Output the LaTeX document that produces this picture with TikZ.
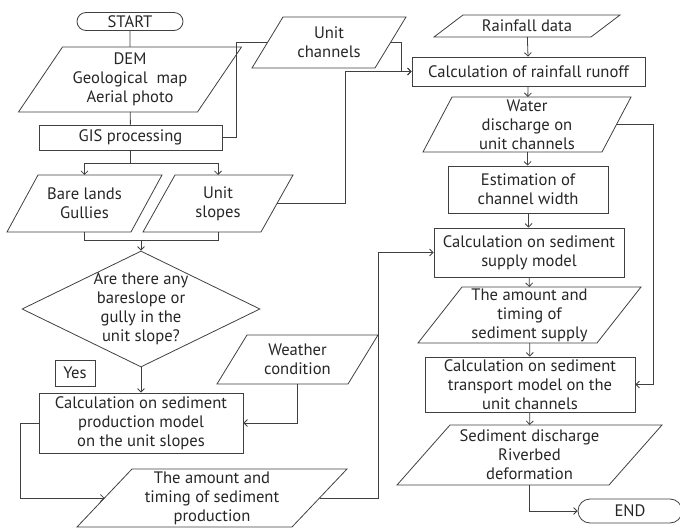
\documentclass[tikz,border=0pt]{standalone}
\usepackage{fontspec}
\setmainfont{PT Sans}
\usepackage{tikz}
\usetikzlibrary{positioning, arrows.meta, shapes.geometric, shapes.misc, calc}

\begin{document}
\begin{tikzpicture}[
    x=1pt, y=-1pt,
    font=\fontsize{16.6}{19}\selectfont,
    line/.style={draw=black!75, line width=0.8pt},
    >={Straight Barb[length=3.5pt, width=7pt]},
    flow/.style={line, ->},
    terminal/.style={line, rounded rectangle, minimum width=#1, inner sep=0pt, text=black!85},
    process/.style={line, rectangle, minimum width=#1, inner sep=0pt, align=center, text=black!85},
    datanode/.style={rectangle, minimum width=#1, inner sep=0pt, outer sep=0pt, align=center, text=black!85},
    decision/.style={line, diamond, aspect=2.05, inner sep=-9pt, align=center, text=black!85}
]
\useasboundingbox (0,0) rectangle (680,529);

% Left column
\node[terminal=106pt, minimum height=18pt] (start) at (130,21.5) {START};
\node[datanode=179pt, minimum height=65pt] (dem) at (130,79.5) {DEM\\Geological~ map\\Aerial photo};
\node[process=183pt, minimum height=25pt] (gis) at (130.5,137.5) {GIS processing};
\node[datanode=124pt, minimum height=57pt] (bare) at (84.5,203.5) {Bare lands\\Gullies};
\node[datanode=118pt, minimum height=57pt] (slopes) at (218,203.5) {Unit\\slopes};
\node[decision, minimum width=238pt, minimum height=116pt] (decide) at (141,309) {Are there any\\bareslope or\\gully in the\\unit slope?};
\node[process=40pt, minimum height=26pt] (yes) at (75,373) {Yes};
\node[datanode=131pt, minimum height=49pt] (weather) at (297.5,359.5) {Weather\\condition};
\node[process=204pt, minimum height=60pt] (prod) at (141,423) {Calculation on sediment\\production model\\on the unit slopes};
\node[datanode=215pt, minimum height=58pt] (prodamt) at (212,498) {The amount and\\timing of sediment\\production};

% Channels
\node[datanode=123pt, minimum height=51pt] (chan) at (329,42.5) {Unit\\channels};

% Right column
\node[datanode=157pt, minimum height=22pt] (rain) at (527,26) {Rainfall data};
\node[process=233pt, minimum height=29pt] (runoff) at (528.5,71.5) {Calculation of rainfall runoff};
\node[datanode=179pt, minimum height=55pt] (water) at (527,124.5) {Water\\discharge on\\unit channels};
\node[process=160pt, minimum height=47pt] (est) at (528,189.5) {Estimation of\\channel width};
\node[process=190pt, minimum height=49pt] (supply) at (529,252.5) {Calculation on sediment\\supply model};
\node[datanode=179pt, minimum height=56pt] (supamt) at (529.5,315) {The amount and\\timing of\\sediment supply};
\node[process=210pt, minimum height=55pt] (transport) at (530,384.5) {Calculation on sediment\\transport model on the\\unit channels};
\node[datanode=212pt, minimum height=60pt] (sed) at (529.5,455) {Sediment discharge\\Riverbed\\deformation};
\node[terminal=104pt, minimum height=24pt] (endnode) at (630,511) {END};

% Data outlines
\foreach \n/\s in {dem/44, bare/31, slopes/32, chan/31, rain/29, water/29, supamt/44, sed/53, weather/30, prodamt/55}
  \draw[line] ($(\n.north west)+(\s/2,0)$) -- ($(\n.north east)+(\s/2,0)$)
    -- ($(\n.south east)-(\s/2,0)$) -- ($(\n.south west)-(\s/2,0)$) -- cycle;

% Connections
\draw[line] (start) -- (dem);
\draw[line] (dem) -- (gis);
\draw[line] (gis.south) -- ++(0,13) coordinate (split);
\draw[flow] (split) -| (bare.north);
\draw[flow] (split) -| (slopes.north);
\draw[line] (gis.east) -- ++(13.5,0) |- (chan.west);
\draw[flow] (chan.east) -- ++(10.5,0) |- (runoff.west);
\draw[flow] (slopes.east) -- ++(68,0) |- (runoff.west);
\draw[line] (bare.south) -- ++(0,8) coordinate (merge) -| (slopes.south);
\draw[flow] (merge -| decide.north) -- (decide.north);
\draw[flow] (decide.south) -- (prod.north);
\draw[flow] (weather.south) |- (prod.east);
\draw[flow] (prod.west) -- ++(-18,0) |- (prodamt.west);
\draw[flow] (prodamt.east) -- ++(58.5,0) |- (supply.west);

\draw[flow] (rain) -- (runoff);
\draw[flow] (runoff) -- (water);
\draw[flow] (water) -- (est);
\draw[flow] (est) -- (supply);
\draw[flow] (supply) -- (supamt);
\draw[flow] (supamt) -- (transport);
\draw[flow] (transport) -- (sed);
\draw[flow] (water.east) -- ++(36.5,0) |- (transport.east);
\draw[flow] (sed.south) |- (endnode.west);

\end{tikzpicture}
\end{document}
